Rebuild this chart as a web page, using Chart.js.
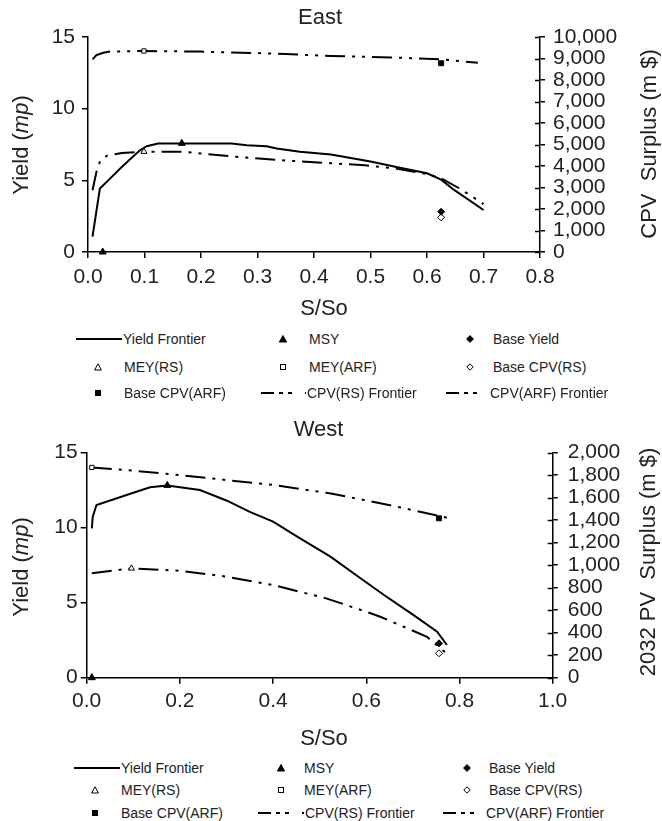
<!DOCTYPE html>
<html><head><meta charset="utf-8">
<script src="https://cdn.jsdelivr.net/npm/chart.js@4.4.0/dist/chart.umd.min.js"></script>
<style>
html,body{margin:0;padding:0;background:#fff;}
body{width:662px;height:821px;position:relative;overflow:hidden;font-family:"Liberation Sans",Arial,sans-serif;color:#222;}
canvas{position:absolute;left:0;}
.lg{position:absolute;font-size:14px;line-height:16px;white-space:nowrap;color:#222;}
svg.s{position:absolute;overflow:visible;}
</style></head><body>
<canvas id="east" width="662" height="322" style="top:0px"></canvas>
<canvas id="west" width="662" height="350" style="top:400px"></canvas>
<div id="legends"></div>
<script>
// ---------------- DATA ----------------
// East
const eastXTicks = [0, 0.8, 0.1];
const eastYieldX = [0.008,0.021,0.039,0.057,0.074,0.092,0.104,0.124,0.166,0.254,0.281,0.316,0.334,0.375,0.43,0.50,0.55,0.60,0.625,0.648,0.70];
const eastYield  = [1.07,4.43,5.12,5.82,6.45,7.10,7.38,7.57,7.57,7.57,7.45,7.38,7.22,6.99,6.8,6.31,5.9,5.49,5.05,4.33,2.93];
const eastRSX = [0.008,0.015,0.022,0.035,0.06,0.10,0.17,0.26,0.36,0.43,0.49,0.54,0.60,0.625,0.66,0.70];
const eastRS  = [2870,3730,4270,4500,4600,4670,4660,4430,4240,4130,4030,3900,3630,3430,2920,2230];
const eastARFX = [0.008,0.015,0.027,0.039,0.099,0.198,0.316,0.43,0.536,0.625,0.69];
const eastARF  = [8960,9160,9270,9320,9350,9320,9240,9120,9050,8960,8800];
const eastMSYX = [0.026,0.166], eastMSY = [0,7.58];
const eastMEYRSX = [0.099], eastMEYRS = [4670];
const eastMEYARFX = [0.099], eastMEYARF = [9350];
const eastBaseX = [0.625];
const eastBaseYield = [2.81], eastBaseCPVRS = [1610], eastBaseCPVARF = [8780];
// West
const westXTicks = [0, 1.0, 0.2];
const westYieldX = [0.011,0.013,0.021,0.1,0.136,0.173,0.243,0.301,0.35,0.4,0.457,0.5,0.523,0.58,0.638,0.7,0.752,0.773];
const westYield  = [9.96,10.73,11.51,12.33,12.69,12.82,12.51,11.8,11.05,10.4,9.3,8.51,8.07,6.8,5.51,4.2,3.07,2.18];
const westRSX = [0.011,0.096,0.2,0.3,0.4,0.514,0.59,0.63,0.67,0.73,0.775];
const westRS  = [928,972,951,898,824,705,600,542,471,364,205];
const westARFX = [0.011,0.1,0.2,0.3,0.4,0.524,0.6,0.666,0.72,0.775];
const westARF  = [1869,1840,1801,1757,1713,1638,1575,1520,1470,1420];
const westMSYX = [0.011,0.173], westMSY = [0,12.82];
const westMEYRSX = [0.096], westMEYRS = [972];
const westMEYARFX = [0.011], westMEYARF = [1869];
const westBaseX = [0.756];
const westBaseYield = [2.29], westBaseCPVRS = [217], westBaseCPVARF = [1417];

const yieldTicks = [0, 15, 5];
const eastCPVTicks = [0, 10000, 1000];
const westCPVTicks = [0, 2000, 200];
const legendLabels = [['Yield Frontier','MSY','Base Yield'],['MEY(RS)','MEY(ARF)','Base CPV(RS)'],['Base CPV(ARF)','CPV(RS) Frontier','CPV(ARF) Frontier']];

// ---------------- HELPERS ----------------
const FONT = '"Liberation Sans", Arial, sans-serif';
const TXT = '#222';
const DASH = [20,7,3,7,3,7];
function pts(xs, ys){ return xs.map((x,i)=>({x:x, y:ys[i]})); }
function marker(label, xs, ys, axis, style, fill, r){
  return {label, data: pts(xs,ys), yAxisID: axis, showLine:false, pointStyle: style,
    pointRadius: r, pointHoverRadius: r, pointBackgroundColor: fill, pointBorderColor:'#000',
    pointBorderWidth: 1, clip:false};
}
function line(label, xs, ys, axis, dash){
  return {label, data: pts(xs,ys), yAxisID: axis, showLine:true, pointRadius:0, borderColor:'#000',
    borderWidth: 2, borderDash: dash || [], tension:0, clip:false, fill:false};
}

const textPlugin = {
  id:'texts',
  afterDraw(chart, args, o){
    const ctx = chart.ctx;
    ctx.save();
    ctx.fillStyle = TXT;
    ctx.textBaseline = 'middle';
    ctx.textAlign = 'center';
    ctx.font = '22px ' + FONT;
    ctx.fillText(o.title, o.titleX, o.titleY);
    ctx.fillText('S/So', o.xTitleX, o.xTitleY);
    // left title with italic mp
    const parts = [['Yield (', false], ['mp', true], [')', false]];
    let total = 0;
    parts.forEach(p=>{ ctx.font = (p[1]?'italic ':'') + '22px ' + FONT; p.push(ctx.measureText(p[0]).width); total += p[2]; });
    ctx.save();
    ctx.translate(o.yTitleX, o.yTitleY);
    ctx.rotate(-Math.PI/2);
    ctx.textAlign = 'left';
    let cx = -total/2;
    parts.forEach(p=>{ ctx.font = (p[1]?'italic ':'') + '22px ' + FONT; ctx.fillText(p[0], cx, 0); cx += p[2]; });
    ctx.restore();
    // right title
    ctx.save();
    ctx.translate(o.y1TitleX, o.y1TitleY);
    ctx.rotate(-Math.PI/2);
    ctx.font = '22px ' + FONT;
    ctx.textAlign = 'center';
    ctx.fillText(o.y1Title, 0, 0);
    ctx.restore();
    // inner ticks on right axis
    const s = chart.scales.y1;
    ctx.strokeStyle = '#000'; ctx.lineWidth = 1.5;
    s.ticks.forEach(t=>{
      const y = Math.round(s.getPixelForValue(t.value)) + 0.5;
      ctx.beginPath(); ctx.moveTo(s.left - 5, y); ctx.lineTo(s.left, y); ctx.stroke();
    });
    ctx.restore();
  }
};

function build(id, d){
  const gridOpt = {display:true, drawOnChartArea:false, drawTicks:true, tickLength:6, color:'#000', lineWidth:1.5};
  const borderOpt = {display:true, color:'#000', width:1.5};
  return new Chart(document.getElementById(id), {
    type:'scatter',
    data:{ datasets:[
      marker('MSY', d.msyX, d.msy, 'y', 'triangle', '#000', 4),
      marker('MEY(RS)', d.meyrsX, d.meyrs, 'y1', 'triangle', '#fff', 3.5),
      marker('MEY(ARF)', d.meyarfX, d.meyarf, 'y1', 'rect', '#fff', 3),
      marker('Base Yield', d.baseX, d.baseYield, 'y', 'rectRot', '#000', 3.5),
      marker('Base CPV(RS)', d.baseX, d.baseRS, 'y1', 'rectRot', '#fff', 3.5),
      marker('Base CPV(ARF)', d.baseX, d.baseARF, 'y1', 'rect', '#000', 3.5),
      line('Yield Frontier', d.yX, d.y, 'y'),
      line('CPV(RS) Frontier', d.rsX, d.rs, 'y1', DASH),
      line('CPV(ARF) Frontier', d.arfX, d.arf, 'y1', DASH)
    ]},
    options:{
      responsive:false, animation:false, devicePixelRatio:1,
      layout:{padding:{top:d.padTop, left:0, right:0, bottom:0}},
      plugins:{legend:{display:false}, tooltip:{enabled:false}, title:{display:false}, texts:d.texts},
      scales:{
        x:{type:'linear', position:'bottom', min:d.xT[0], max:d.xT[1],
           ticks:{stepSize:d.xT[2], color:TXT, font:{family:FONT, size:21}, padding:d.xPad, maxRotation:0, autoSkip:false,
                  callback:v=>Number(v).toFixed(1)},
           grid:gridOpt, border:borderOpt, afterFit:s=>{s.height=d.xH;}},
        y:{type:'linear', position:'left', min:yieldTicks[0], max:yieldTicks[1],
           ticks:{stepSize:yieldTicks[2], color:TXT, font:{family:FONT, size:21}, padding:d.yPad, autoSkip:false},
           grid:gridOpt, border:borderOpt, afterFit:s=>{s.width=d.yW;}},
        y1:{type:'linear', position:'right', min:d.cT[0], max:d.cT[1],
           ticks:{stepSize:d.cT[2], color:TXT, font:{family:FONT, size:21}, padding:d.y1Pad, autoSkip:false,
                  callback:v=>Number(v).toLocaleString('en-US')},
           grid:{...gridOpt, tickLength:5}, border:borderOpt, afterFit:s=>{s.width=d.y1W;}}
      }
    },
    plugins:[textPlugin]
  });
}

build('east', {
  msyX:eastMSYX, msy:eastMSY, meyrsX:eastMEYRSX, meyrs:eastMEYRS, meyarfX:eastMEYARFX, meyarf:eastMEYARF,
  baseX:eastBaseX, baseYield:eastBaseYield, baseRS:eastBaseCPVRS, baseARF:eastBaseCPVARF,
  yX:eastYieldX, y:eastYield, rsX:eastRSX, rs:eastRS, arfX:eastARFX, arf:eastARF,
  xT:eastXTicks, cT:eastCPVTicks,
  padTop:37, xH:70, yW:88, y1W:122, xPad:7, yPad:7, y1Pad:8,
  texts:{title:'East', titleX:320, titleY:18, xTitleX:324, xTitleY:309, yTitleX:22, yTitleY:145,
         y1Title:'CPV  Surplus (m $)', y1TitleX:650, y1TitleY:144}
});
build('west', {
  msyX:westMSYX, msy:westMSY, meyrsX:westMEYRSX, meyrs:westMEYRS, meyarfX:westMEYARFX, meyarf:westMEYARF,
  baseX:westBaseX, baseYield:westBaseYield, baseRS:westBaseCPVRS, baseARF:westBaseCPVARF,
  yX:westYieldX, y:westYield, rsX:westRSX, rs:westRS, arfX:westARFX, arf:westARF,
  xT:westXTicks, cT:westCPVTicks,
  padTop:52.7, xH:72.3, yW:86.7, y1W:109.3, xPad:5, yPad:3, y1Pad:10,
  texts:{title:'West', titleX:318.5, titleY:30, xTitleX:324, xTitleY:339, yTitleX:22, yTitleY:167,
         y1Title:'2032 PV  Surplus (m $)', y1TitleX:649, y1TitleY:162}
});

// ---------------- HTML LEGENDS ----------------
const legendRoot = document.getElementById('legends');
function svgEl(x, y, w, h, inner){
  const s = document.createElementNS('http://www.w3.org/2000/svg','svg');
  s.setAttribute('class','s'); s.setAttribute('width', w); s.setAttribute('height', h);
  s.style.left = x + 'px'; s.style.top = y + 'px';
  s.innerHTML = inner; legendRoot.appendChild(s);
}
function symbol(kind, cx, cy){
  const k = {
    triF:'<polygon points="4,0.5 7.6,7 0.4,7" fill="#000" stroke="#000" stroke-width="1"/>',
    triO:'<polygon points="4,0.8 7.4,7 0.6,7" fill="#fff" stroke="#000" stroke-width="1"/>',
    diaF:'<polygon points="4,0.5 7.5,4 4,7.5 0.5,4" fill="#000" stroke="#000" stroke-width="0.8"/>',
    diaO:'<polygon points="4,0.8 7.2,4 4,7.2 0.8,4" fill="#fff" stroke="#000" stroke-width="1"/>',
    sqF:'<rect x="1" y="1" width="6" height="6" fill="#000"/>',
    sqO:'<rect x="1.5" y="1.5" width="5" height="5" fill="#fff" stroke="#000" stroke-width="1"/>'
  }[kind];
  svgEl(cx-4, cy-4, 8, 8, k);
}
function lineSym(x1, x2, cy, dashed){
  const w = x2 - x1;
  svgEl(x1, cy-2, w, 4, '<line x1="0" y1="2" x2="'+w+'" y2="2" stroke="#000" stroke-width="2"'+(dashed?' stroke-dasharray="13,5,4,5,4"':'')+'/>');
}
function text(t, x, cy){
  const d = document.createElement('div'); d.className='lg'; d.textContent = t;
  d.style.left = x + 'px'; d.style.top = (cy - 8) + 'px'; legendRoot.appendChild(d);
}
function legend(L){
  const [r1, r2, r3] = L.rows;
  lineSym(L.c1l[0], L.c1l[1], r1, false); text(legendLabels[0][0], L.c1l[1]+1, r1);
  symbol('triF', L.c2s, r1); text(legendLabels[0][1], L.c2t, r1);
  symbol('diaF', L.c3s, r1); text(legendLabels[0][2], L.c3t, r1);
  symbol('triO', L.c1s, r2); text(legendLabels[1][0], L.c1t, r2);
  symbol('sqO', L.c2s, r2); text(legendLabels[1][1], L.c2t, r2);
  symbol('diaO', L.c3s, r2); text(legendLabels[1][2], L.c3t, r2);
  symbol('sqF', L.c1s, r3); text(legendLabels[2][0], L.c1t, r3);
  lineSym(L.c2l[0], L.c2l[1], r3, true); text(legendLabels[2][1], L.c2l[1]+1, r3);
  lineSym(L.c3l[0], L.c3l[1], r3, true); text(legendLabels[2][2], L.c3l[1]+2, r3);
}
legend({rows:[338.5,366.5,393], c1l:[76,122], c1s:98, c1t:124, c2s:283, c2t:309, c3s:470, c3t:493, c2l:[261,306], c3l:[446,488]});
legend({rows:[767.7,790,812.7], c1l:[74,120], c1s:95, c1t:121, c2s:281, c2t:304, c3s:467, c3t:489, c2l:[258,304], c3l:[443,484]});
</script></body></html>
